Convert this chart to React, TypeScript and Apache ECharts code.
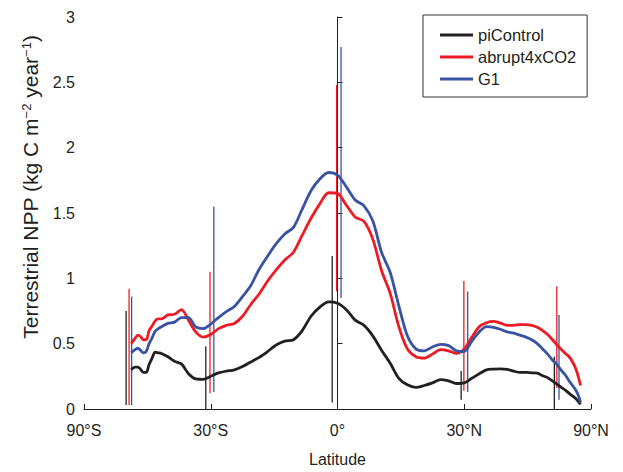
import React, { useEffect, useRef } from "react";
import * as echarts from "echarts";

// Latitude grid (degrees) at which the zonal-mean curves were read
const latitudes = [
  -54.5, -53, -52, -51, -50, -49, -48, -47, -46, -45, -44, -42, -40, -38, -36, -34, -32, -30,
  -28, -26, -24, -22, -20, -18, -16, -14, -12, -10, -8, -6, -4, -2, 0, 2, 4, 6, 8, 10, 12, 14,
  16, 18, 20, 22, 24, 26, 28, 30, 32, 34, 36, 38, 40, 42, 44, 46, 48, 50, 52, 54, 56, 58, 60,
  62, 64, 66, 68, 70, 72, 73.5,
];

const piControl = [
  0.30, 0.32, 0.32, 0.305, 0.28, 0.28, 0.34, 0.39, 0.435, 0.43, 0.425, 0.40, 0.365, 0.345, 0.27,
  0.23, 0.226, 0.25, 0.276, 0.29, 0.30, 0.325, 0.36, 0.395, 0.44, 0.49, 0.52, 0.53, 0.60, 0.71,
  0.78, 0.82, 0.81, 0.76, 0.68, 0.64, 0.56, 0.45, 0.35, 0.235, 0.185, 0.165, 0.18, 0.20, 0.225,
  0.215, 0.195, 0.20, 0.235, 0.27, 0.30, 0.305, 0.307, 0.303, 0.29, 0.28, 0.28, 0.277, 0.275,
  0.255, 0.24, 0.215, 0.19, 0.165, 0.145, 0.12, 0.10, 0.08, 0.055, 0.035,
];

const abrupt4xCO2 = [
  0.50, 0.54, 0.565, 0.555, 0.53, 0.53, 0.60, 0.635, 0.675, 0.69, 0.69, 0.72, 0.725, 0.76, 0.68,
  0.59, 0.55, 0.57, 0.615, 0.64, 0.655, 0.71, 0.80, 0.88, 0.98, 1.065, 1.14, 1.20, 1.33, 1.46,
  1.57, 1.655, 1.65, 1.56, 1.47, 1.435, 1.30, 1.06, 0.885, 0.63, 0.46, 0.40, 0.39, 0.42, 0.455,
  0.445, 0.425, 0.46, 0.55, 0.63, 0.66, 0.67, 0.657, 0.64, 0.64, 0.646, 0.646, 0.64, 0.625,
  0.60, 0.57, 0.53, 0.49, 0.455, 0.425, 0.40, 0.36, 0.31, 0.24, 0.18,
];

const g1 = [
  0.43, 0.455, 0.465, 0.45, 0.43, 0.44, 0.50, 0.545, 0.595, 0.615, 0.63, 0.655, 0.665, 0.70,
  0.70, 0.628, 0.615, 0.65, 0.70, 0.745, 0.785, 0.86, 0.945, 1.07, 1.17, 1.265, 1.34, 1.39, 1.53,
  1.67, 1.76, 1.81, 1.79, 1.70, 1.60, 1.555, 1.44, 1.20, 1.045, 0.79, 0.56, 0.46, 0.445, 0.475,
  0.495, 0.485, 0.445, 0.44, 0.52, 0.59, 0.63, 0.625, 0.61, 0.59, 0.58, 0.565, 0.55, 0.53, 0.50,
  0.46, 0.42, 0.375, 0.34, 0.295, 0.26, 0.215, 0.18, 0.145, 0.10, 0.05,
];

// Vertical range bars (latitude, low, high)
const piRangeLat = [-56.5, -31.3, -1.2, 29.2, 58.8];
const piRangeLo = [0.03, 0.0, 0.05, 0.07, 0.0];
const piRangeHi = [0.75, 0.48, 1.17, 0.29, 0.4];

const co2RangeLat = [-55.3, -30.2, -0.2, 29.9, 59.9];
const co2RangeLo = [0.03, 0.12, 0.9, 0.14, 0.16];
const co2RangeHi = [0.92, 1.05, 2.48, 0.98, 0.94];

const g1RangeLat = [-54.3, -29.2, 0.8, 30.9, 60.9];
const g1RangeLo = [0.03, 0.13, 0.85, 0.13, 0.07];
const g1RangeHi = [0.86, 1.55, 2.77, 0.9, 0.72];

const xTickLabels = ["90°S", "30°S", "0°", "30°N", "90°N"];
const yTicks = [0, 0.5, 1, 1.5, 2, 2.5, 3];

const BLACK = "#231f20";
const RED = "#ed1c24";
const BLUE = "#3953a4";
const FONT = "Liberation Sans, Arial, Helvetica, sans-serif";

const s = (lat: number) => Math.sin((lat * Math.PI) / 180);

export default function App() {
  const ref = useRef<HTMLDivElement>(null);

  useEffect(() => {
    if (!ref.current) return;
    const chart = echarts.init(ref.current, null, { renderer: "svg" });

    const curve = (vals: number[]) => latitudes.map((la, i) => [s(la), vals[i]]);
    const ranges = (lats: number[], lo: number[], hi: number[]) =>
      lats.map((la, i) => [s(la), lo[i], hi[i]]);

    const rangeSeries = (name: string, color: string, data: number[][]) => ({
      type: "custom",
      name,
      data,
      silent: true,
      encode: { x: 0, y: [1, 2] },
      renderItem: (_params: any, api: any) => {
        const p1 = api.coord([api.value(0), api.value(1)]);
        const p2 = api.coord([api.value(0), api.value(2)]);
        return {
          type: "line",
          shape: { x1: p1[0], y1: p1[1], x2: p2[0], y2: p2[1] },
          style: { stroke: color, lineWidth: 1.3 },
        };
      },
      z: 1,
    });

    const lineSeries = (name: string, color: string, vals: number[]) => ({
      type: "line",
      name,
      data: curve(vals),
      showSymbol: false,
      symbol: "none",
      smooth: 0.3,
      lineStyle: { color, width: 2.8 },
      itemStyle: { color },
      z: 3,
    });

    chart.setOption({
      animation: false,
      textStyle: { fontFamily: FONT },
      grid: { left: 84, right: 32, top: 17, bottom: 57 },
      legend: {
        data: ["piControl", "abrupt4xCO2", "G1"],
        orient: "vertical",
        left: 423,
        top: 15,
        icon: "rect",
        itemWidth: 33,
        itemHeight: 3,
        itemGap: 4,
        padding: [11, 11, 9, 17],
        borderColor: "#333",
        borderWidth: 1,
        backgroundColor: "#fff",
        textStyle: { fontSize: 16.5, color: "#231f20", lineHeight: 18, fontFamily: FONT },
      },
      xAxis: {
        type: "value",
        min: -1,
        max: 1,
        interval: 0.5,
        name: "Latitude",
        nameLocation: "middle",
        nameGap: 42,
        nameTextStyle: { fontSize: 16, color: "#231f20", fontFamily: FONT },
        axisLine: { lineStyle: { color: "#231f20", width: 1 } },
        axisTick: { inside: true, length: 5, lineStyle: { color: "#231f20" } },
        axisLabel: {
          fontSize: 16,
          color: "#231f20",
          margin: 13,
          formatter: (v: number) => xTickLabels[Math.round((v + 1) * 2)] ?? "",
        },
        splitLine: { show: false },
      },
      yAxis: {
        type: "value",
        min: yTicks[0],
        max: yTicks[yTicks.length - 1],
        interval: 0.5,
        axisLine: { show: true, lineStyle: { color: "#231f20", width: 1 } },
        axisTick: { show: true, inside: true, length: 5, lineStyle: { color: "#231f20" } },
        axisLabel: { fontSize: 16, color: "#231f20", margin: 9 },
        splitLine: { show: false },
      },
      graphic: [
        {
          type: "text",
          x: 30,
          y: 187,
          rotation: Math.PI / 2,
          style: {
            text: "Terrestrial NPP (kg C m{sup|−2} year{sup|−1})",
            fontSize: 21,
            fontFamily: FONT,
            fill: "#231f20",
            align: "center",
            verticalAlign: "middle",
            rich: {
              sup: { fontSize: 13, verticalAlign: "top", fontFamily: FONT, fill: "#231f20" },
            },
          },
        },
      ],
      series: [
        rangeSeries("piControl range", BLACK, ranges(piRangeLat, piRangeLo, piRangeHi)),
        rangeSeries("abrupt4xCO2 range", RED, ranges(co2RangeLat, co2RangeLo, co2RangeHi)),
        rangeSeries("G1 range", BLUE, ranges(g1RangeLat, g1RangeLo, g1RangeHi)),
        lineSeries("piControl", BLACK, piControl),
        lineSeries("abrupt4xCO2", RED, abrupt4xCO2),
        lineSeries("G1", BLUE, g1),
      ],
    });

    return () => chart.dispose();
  }, []);

  return (
    <div
      ref={ref}
      style={{ position: "fixed", left: 0, top: 0, width: 623, height: 472, background: "#fff" }}
    />
  );
}
